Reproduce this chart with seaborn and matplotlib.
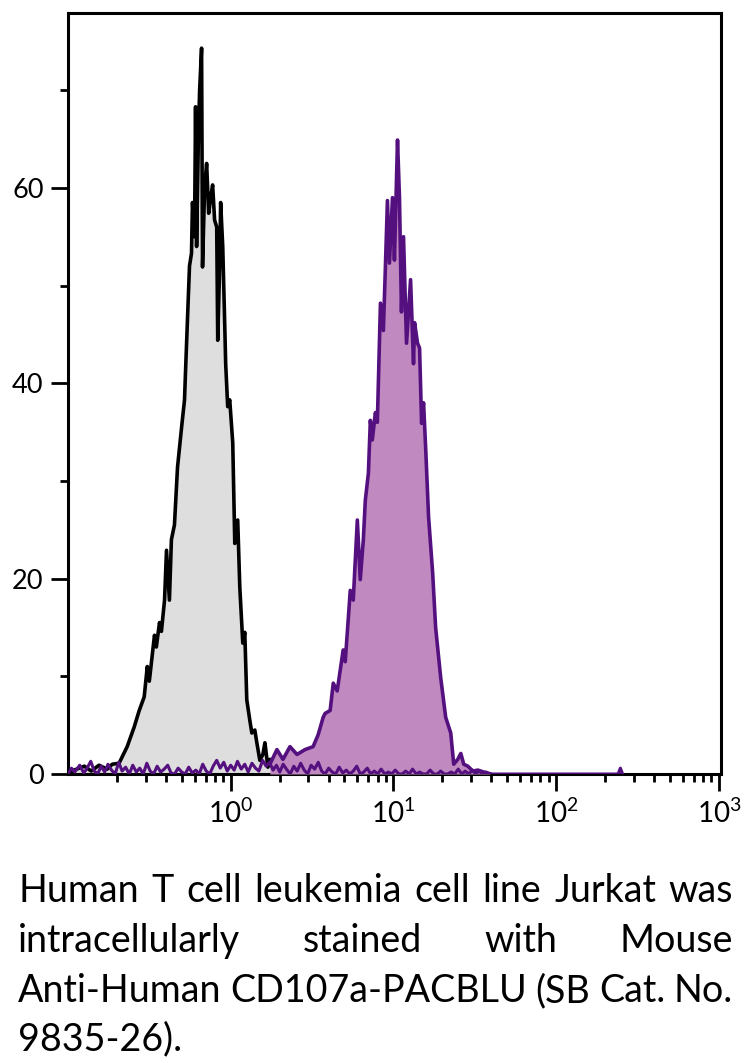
import numpy as np
import pandas as pd
import matplotlib
matplotlib.use("Agg")
import matplotlib.pyplot as plt
import matplotlib.ticker as mticker
import seaborn as sns

# ---------------- data ----------------
control_x = [0.100, 0.109, 0.126, 0.139, 0.155, 0.174, 0.187, 0.206, 0.231, 0.255,
             0.274, 0.294, 0.307, 0.316, 0.340, 0.349, 0.365, 0.375, 0.392, 0.403,
             0.420, 0.432, 0.451, 0.471, 0.499, 0.520, 0.527, 0.543, 0.558, 0.574,
             0.582, 0.599, 0.608, 0.617, 0.634, 0.644, 0.662, 0.671, 0.691, 0.711,
             0.732, 0.753, 0.774, 0.796, 0.820, 0.832, 0.855, 0.867, 0.893, 0.918,
             0.931, 0.958, 0.986, 1.029, 1.059, 1.104, 1.137, 1.186, 1.220, 1.255,
             1.310, 1.348, 1.406, 1.447, 1.510, 1.576, 1.622, 1.692, 1.741, 1.870, 2.006]
control_y = [0.0, 0.4, 0.8, 0.3, 0.9, 0.5, 1.0, 1.1, 2.8, 4.8,
             6.5, 7.9, 11.0, 9.5, 14.2, 13.0, 15.5, 14.6, 17.8, 22.9,
             17.8, 24.0, 25.5, 31.4, 35.5, 38.3, 41.0, 46.8, 52.0, 53.3,
             58.5, 55.0, 68.3, 54.0, 66.0, 70.0, 74.3, 51.9, 60.0, 62.5,
             57.4, 59.0, 60.3, 56.7, 56.0, 44.4, 52.0, 58.5, 54.0, 46.2,
             42.0, 37.6, 38.3, 33.9, 23.6, 26.0, 19.1, 13.4, 14.5, 7.6,
             5.5, 4.2, 4.5, 3.2, 1.4, 2.0, 3.2, 0.7, 1.5, 0.5, 0.0]

stained_x = [1.741, 1.923, 2.094, 2.313, 2.555, 2.863, 3.207, 3.443, 3.698, 3.802,
             4.083, 4.266, 4.511, 4.909, 5.055, 5.272, 5.428, 5.662, 5.998, 6.252,
             6.531, 6.714, 7.015, 7.211, 7.413, 7.745, 7.962, 8.318, 8.670, 8.926,
             9.183, 9.446, 9.863, 10.14, 10.59, 10.89, 11.20, 11.53, 12.03, 12.74,
             13.28, 13.48, 14.06, 14.47, 14.89, 15.31, 15.76, 16.44, 17.41, 18.16,
             19.50, 20.94, 22.49, 23.46, 24.84, 25.94, 27.04, 28.64, 30.76, 33.0,
             35.9, 39.7]
stained_y = [1.0, 2.5, 1.5, 2.8, 2.0, 2.5, 2.8, 4.0, 5.8, 6.2,
             6.5, 9.3, 8.5, 12.7, 11.5, 15.8, 18.8, 17.8, 26.0, 19.9,
             24.0, 28.0, 30.8, 36.2, 34.2, 37.0, 36.0, 48.2, 45.4, 52.0,
             58.7, 52.3, 59.0, 52.6, 64.9, 59.0, 47.3, 55.0, 44.1, 50.6,
             42.0, 46.2, 44.1, 43.6, 35.9, 38.0, 33.5, 26.3, 20.6, 15.0,
             9.9, 5.8, 4.2, 1.0, 1.5, 2.1, 1.0, 0.8, 0.3, 0.4,
             0.2, 0.0]

baseline_x = [0.100, 0.105, 0.110, 0.118, 0.125, 0.130, 0.138, 0.145, 0.152, 0.160,
              0.168, 0.176, 0.185, 0.195, 0.205, 0.215, 0.226, 0.238, 0.250, 0.263,
              0.276, 0.290, 0.305, 0.320, 0.336, 0.353, 0.371, 0.390, 0.410, 0.430,
              0.452, 0.475, 0.500, 0.525, 0.552, 0.580, 0.610, 0.640, 0.673, 0.707,
              0.743, 0.780, 0.820, 0.862, 0.906, 0.952, 1.000, 1.050, 1.100, 1.160,
              1.220, 1.280, 1.350, 1.420, 1.490, 1.570, 1.650, 1.730, 1.820, 1.910,
              2.000, 2.100, 2.200, 2.320, 2.440, 2.560, 2.690, 2.830, 2.970, 3.120,
              3.280, 3.450, 3.620, 3.800, 4.000, 4.200, 4.420, 4.640, 4.880, 5.130,
              5.390, 5.660, 5.950, 6.250, 6.570, 6.900, 7.250, 7.620, 8.000, 8.400,
              8.850, 9.300, 9.750, 10.25, 10.80, 11.30, 11.90, 12.50, 13.10, 13.80,
              14.50, 15.20, 16.00, 16.80, 17.70, 18.60, 19.50, 20.50, 21.50, 22.60,
              23.80, 25.00, 26.30, 27.60, 29.00, 30.50, 32.00, 33.60, 35.30, 37.10,
              39.00, 41.00, 240.0, 248.0, 256.0]
baseline_y = [0.0, 0.6, 0.2, 0.9, 0.1, 0.5, 1.3, 0.3, 0.0, 0.8,
              0.2, 1.0, 0.4, 0.0, 1.2, 0.3, 0.7, 0.0, 0.9, 0.2,
              0.6, 0.0, 1.1, 0.3, 0.0, 0.8, 0.2, 0.5, 0.9, 0.1,
              0.0, 0.6, 0.2, 0.0, 0.7, 0.1, 0.4, 0.0, 1.0, 0.3,
              0.0, 0.8, 1.4, 0.6, 1.2, 0.3, 0.9, 0.4, 1.3, 0.5,
              1.0, 0.2, 1.1, 0.6, 0.3, 1.4, 0.8, 1.2, 0.4, 0.9,
              0.2, 1.0, 0.5, 0.0, 0.8, 0.3, 1.1, 0.4, 0.0, 0.9,
              0.5, 1.2, 0.3, 0.0, 0.6, 0.2, 0.0, 0.7, 0.1, 0.4,
              0.0, 0.3, 0.8, 0.0, 0.2, 0.6, 0.0, 0.3, 0.0, 0.5,
              0.0, 0.2, 0.0, 0.4, 0.0, 0.0, 0.3, 0.0, 0.5, 0.0,
              0.2, 0.0, 0.0, 0.4, 0.0, 0.0, 0.3, 0.0, 0.0, 0.2,
              0.0, 0.5, 0.0, 0.3, 0.0, 0.4, 0.0, 0.3, 0.0, 0.2,
              0.0, 0.0, 0.0, 0.6, 0.0]

y_major = [0, 20, 40, 60]
y_minor = [10, 30, 50, 70]
x_major = [1, 10, 100, 1000]
x_major_labels = [r"$\mathregular{10^{0}}$", r"$\mathregular{10^{1}}$",
                  r"$\mathregular{10^{2}}$", r"$\mathregular{10^{3}}$"]

caption_lines = ["Human T cell leukemia cell line Jurkat was",
                 "intracellularly stained with Mouse",
                 "Anti-Human CD107a-PACBLU (SB Cat. No.",
                 "9835-26)."]

# ---------------- style ----------------
sns.set_theme(style="ticks")
plt.rcParams["font.family"] = ["Lato", "DejaVu Sans"]
plt.rcParams["mathtext.fontset"] = "custom"
plt.rcParams["mathtext.rm"] = "Liberation Sans"

GRAY_FILL = "#dedede"
PURPLE_FILL = "#c089c0"
PURPLE_LINE = "#55107f"

W, H = 752, 1063
fig = plt.figure(figsize=(W / 100, H / 100), dpi=100)
ax = fig.add_axes([68 / W, 1 - 774 / H, (721 - 68) / W, (774 - 13) / H])

df_c = pd.DataFrame({"x": control_x, "y": control_y})
df_s = pd.DataFrame({"x": stained_x, "y": stained_y})
df_b = pd.DataFrame({"x": baseline_x, "y": baseline_y})

ax.fill_between(df_c["x"], 0, df_c["y"], color=GRAY_FILL, lw=0, zorder=1)
sns.lineplot(data=df_c, x="x", y="y", ax=ax, color="black", lw=2.6,
             estimator=None, sort=False, zorder=2)
ax.fill_between(df_s["x"], 0, df_s["y"], color=PURPLE_FILL, lw=0, zorder=3)
sns.lineplot(data=df_s, x="x", y="y", ax=ax, color=PURPLE_LINE, lw=2.6,
             estimator=None, sort=False, zorder=4)
sns.lineplot(data=df_b, x="x", y="y", ax=ax, color=PURPLE_LINE, lw=2.2,
             estimator=None, sort=False, zorder=5)

ax.set_xscale("log")
ax.set_xlim(0.1, 1030)
ax.set_ylim(0, 77.9)

ax.set_xticks(x_major)
ax.set_xticklabels(x_major_labels)
ax.xaxis.set_minor_locator(mticker.LogLocator(base=10, subs=np.arange(2, 10)))
ax.xaxis.set_minor_formatter(mticker.NullFormatter())
ax.set_yticks(y_major)
ax.set_yticklabels([str(v) for v in y_major])
ax.set_yticks(y_minor, minor=True)

ax.set_xlabel("")
ax.set_ylabel("")
for s in ax.spines.values():
    s.set_visible(True)
    s.set_linewidth(2.2)
    s.set_color("black")
ax.tick_params(axis="both", which="major", length=12.5, width=2.0, color="black",
               labelsize=19.5, labelcolor="black", pad=5, direction="out")
ax.tick_params(axis="x", which="major", pad=5, labelsize=20)
ax.tick_params(axis="both", which="minor", length=5.5, width=2.0, color="black",
               direction="out")
ax.tick_params(top=False, right=False, which="both")

# ---------------- caption (justified) ----------------
renderer = fig.canvas.get_renderer()
left_px, right_px = 18, 733
baselines = [902, 952, 1002, 1050]

probe = fig.text(0, 0, caption_lines[0], fontsize=30, family=["Lato", "DejaVu Sans"])
wprobe = probe.get_window_extent(renderer).width
probe.remove()
fs = 30 * (right_px - left_px) / wprobe * 0.97

for i, line in enumerate(caption_lines):
    words = line.split(" ")
    yb = 1 - baselines[i] / H
    if i == len(caption_lines) - 1:
        fig.text(left_px / W, yb, line, fontsize=fs, va="baseline", ha="left",
                 family=["Lato", "DejaVu Sans"], color="black")
        continue
    texts = [fig.text(0, yb, w, fontsize=fs, va="baseline", ha="left",
                      family=["Lato", "DejaVu Sans"], color="black") for w in words]
    widths = [t.get_window_extent(renderer).width for t in texts]
    gap = (right_px - left_px - sum(widths)) / (len(words) - 1)
    x = left_px
    for t, wdt in zip(texts, widths):
        t.set_x(x / W)
        x += wdt + gap

fig.savefig("out.png", dpi=100)
